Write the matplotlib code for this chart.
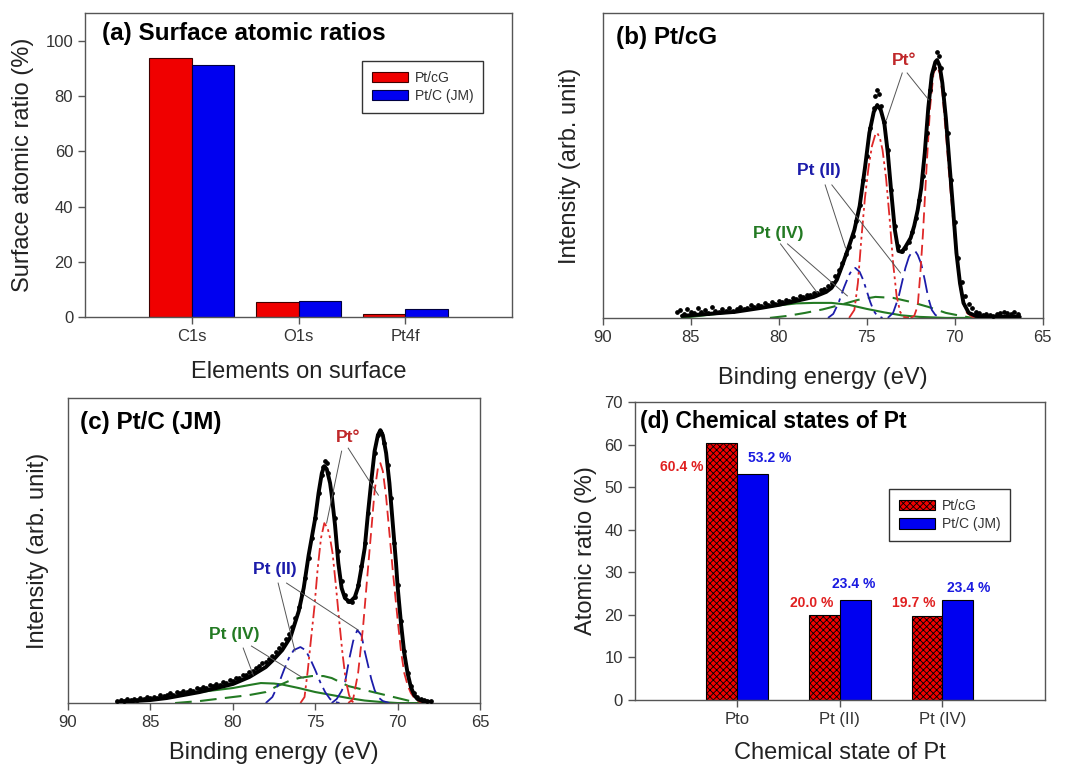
import numpy as np
import matplotlib
matplotlib.use("Agg")
import matplotlib.pyplot as plt
from matplotlib.patches import Patch

plt.rcParams['font.family'] = ['Liberation Sans', 'DejaVu Sans']
plt.rcParams['hatch.linewidth'] = 0.6

# ---- (a) surface atomic ratios
elements = ['C1s', 'O1s', 'Pt4f']
surf_cg = [93.6, 5.4, 1.1]
surf_jm = [91.2, 5.9, 2.9]

# ---- (d) chemical states of Pt
states = ['Pto', 'Pt (II)', 'Pt (IV)']
state_cg = [60.4, 20.0, 19.7]
state_jm = [53.2, 23.4, 23.4]

# ---- (b) Pt/cG spectrum: (binding energy eV, intensity arb.)
b_dots = [(85.8, 6), (85.6, 8), (85.4, 4), (85.2, 9), (85.0, 6), (84.8, 5), (84.6, 10), (84.4, 6),
          (84.2, 8), (84.0, 5), (83.8, 11), (83.6, 7), (83.4, 6), (83.2, 9), (83.0, 7), (82.8, 10),
          (82.6, 7), (82.4, 9), (82.2, 11), (82.0, 9), (81.8, 10), (81.6, 13), (81.4, 11), (81.2, 13),
          (81.0, 12), (80.8, 15), (80.6, 13), (80.4, 16), (80.2, 14), (80.0, 17), (79.8, 16), (79.6, 18),
          (79.4, 17), (79.2, 20), (79.0, 19), (78.8, 22), (78.6, 21), (78.4, 23), (78.2, 23), (78.0, 25),
          (77.8, 25), (77.6, 28), (77.4, 29), (77.2, 32), (77.0, 35), (76.8, 42), (76.6, 48), (76.4, 55),
          (76.2, 64), (76.0, 71), (75.8, 82), (75.6, 97), (75.4, 113), (75.2, 138), (75.0, 162), (74.8, 190),
          (74.6, 210), (74.5, 222), (74.4, 228), (74.3, 224), (74.2, 212), (74.0, 196), (73.8, 168), (73.6, 128),
          (73.4, 92), (73.2, 72), (73.0, 67), (72.8, 70), (72.6, 76), (72.4, 86), (72.2, 100), (72.0, 118),
          (71.8, 142), (71.6, 185), (71.4, 228), (71.2, 250), (71.0, 266), (70.9, 262), (70.8, 250), (70.6, 224),
          (70.4, 185), (70.2, 138), (70.0, 96), (69.8, 60), (69.6, 36), (69.4, 22), (69.2, 14), (69.0, 10),
          (68.8, 6), (68.6, 5), (68.4, 3), (68.2, 4), (68.0, 3), (67.8, 2), (67.6, 4), (67.4, 5),
          (67.2, 6), (67.0, 5), (66.8, 4), (66.6, 6), (66.4, 4)]
b_env = [(85.5, 2), (84.0, 4), (82.5, 6), (81.0, 10), (80.0, 13), (79.0, 17), (78.0, 21), (77.3, 26),
         (77.0, 30), (76.7, 38), (76.4, 52), (76.0, 72), (75.7, 88), (75.4, 112), (75.1, 150), (74.85, 185),
         (74.6, 206), (74.4, 213), (74.2, 208), (74.0, 195), (73.8, 165), (73.6, 125), (73.4, 88), (73.2, 67),
         (73.0, 66), (72.8, 71), (72.5, 80), (72.3, 92), (72.1, 108), (71.9, 130), (71.7, 165), (71.5, 210),
         (71.3, 243), (71.1, 256), (71.0, 258), (70.85, 252), (70.7, 235), (70.5, 200), (70.3, 155), (70.1, 111),
         (69.9, 65), (69.7, 35), (69.5, 15), (69.2, 5), (68.8, 2), (68.0, 1), (67.0, 1), (66.3, 1)]
b_pt0_a = [(72.5, 0), (72.3, 2), (72.1, 12), (71.95, 45), (71.8, 85), (71.6, 150), (71.4, 210), (71.2, 245),
           (71.0, 252), (70.85, 245), (70.7, 225), (70.5, 185), (70.3, 140), (70.1, 100), (69.9, 62), (69.7, 32),
           (69.5, 14), (69.3, 5), (69.0, 1), (68.5, 0)]
b_pt0_b = [(76.0, 0), (75.7, 8), (75.5, 35), (75.3, 80), (75.1, 120), (74.9, 150), (74.7, 172), (74.5, 184),
           (74.4, 185), (74.25, 180), (74.1, 168), (73.9, 140), (73.7, 100), (73.5, 55), (73.3, 22), (73.1, 6),
           (72.9, 1), (72.6, 0)]
b_pt2_a = [(73.8, 0), (73.5, 5), (73.2, 20), (73.0, 35), (72.8, 50), (72.6, 61), (72.4, 67), (72.25, 67),
           (72.1, 63), (71.9, 54), (71.7, 38), (71.5, 20), (71.3, 8), (71.1, 3), (70.8, 0)]
b_pt2_b = [(77.2, 0), (76.9, 4), (76.6, 15), (76.3, 30), (76.0, 43), (75.8, 49), (75.65, 50), (75.4, 46),
           (75.2, 38), (75.0, 27), (74.8, 16), (74.6, 7), (74.4, 2), (74.1, 0)]
b_pt4_a = [(85.5, 0), (84.0, 3), (82.5, 6), (81.0, 10), (80.0, 12.5), (79.0, 14.5), (78.0, 15), (77.0, 15),
           (76.0, 13), (75.0, 9), (74.0, 5.5), (73.0, 2.5), (72.0, 1), (70.5, 0), (66.3, 0)]
b_pt4_b = [(80.5, 0), (79.5, 2), (78.5, 5), (77.5, 8.5), (76.5, 13), (75.5, 18), (74.5, 21), (73.5, 20),
           (72.5, 16), (71.5, 11), (70.5, 5), (69.5, 1.5), (69.0, 0)]

# ---- (c) Pt/C (JM) spectrum
c_dots = [(87.0, 2), (86.8, 3), (86.6, 2), (86.4, 4), (86.2, 3), (86.0, 4), (85.8, 3), (85.6, 5), (85.4, 4),
          (85.2, 6), (85.0, 5), (84.8, 6), (84.6, 5), (84.4, 8), (84.2, 7), (84.0, 8), (83.8, 10), (83.6, 8),
          (83.4, 11), (83.2, 10), (83.0, 12), (82.8, 11), (82.6, 13), (82.4, 12), (82.2, 15), (82.0, 14),
          (81.8, 16), (81.6, 15), (81.4, 18), (81.2, 17), (81.0, 19), (80.8, 18), (80.6, 21), (80.4, 20),
          (80.2, 23), (80.0, 22), (79.8, 25), (79.6, 25), (79.4, 28), (79.2, 28), (79.0, 31), (78.8, 32),
          (78.6, 35), (78.4, 37), (78.2, 40), (78.0, 41), (77.8, 44), (77.6, 47), (77.4, 51), (77.2, 55),
          (77.0, 59), (76.8, 64), (76.6, 69), (76.4, 76), (76.2, 85), (76.0, 96), (75.8, 110), (75.6, 125),
          (75.4, 145), (75.2, 165), (75.0, 185), (74.8, 210), (74.6, 228), (74.5, 236), (74.4, 242), (74.3, 240),
          (74.2, 230), (74.0, 210), (73.8, 185), (73.6, 152), (73.4, 122), (73.2, 108), (73.0, 102), (72.8, 101),
          (72.6, 106), (72.4, 118), (72.2, 137), (72.0, 160), (71.8, 190), (71.6, 222), (71.4, 250), (71.2, 268),
          (71.1, 272), (71.0, 270), (70.8, 260), (70.6, 238), (70.4, 205), (70.2, 160), (70.0, 118), (69.8, 82),
          (69.6, 52), (69.4, 30), (69.2, 17), (69.0, 10), (68.8, 6), (68.6, 4), (68.4, 3), (68.2, 2), (68.0, 2)]
c_env = [(87.0, 1), (86.0, 2), (85.0, 3), (84.0, 5), (83.0, 8), (82.0, 11), (81.0, 15), (80.0, 19),
         (79.0, 26), (78.0, 36), (77.5, 44), (77.0, 53), (76.5, 66), (76.0, 92), (75.7, 115), (75.4, 148),
         (75.0, 185), (74.8, 210), (74.6, 230), (74.45, 237), (74.3, 234), (74.1, 220), (74.0, 208), (73.8, 178),
         (73.6, 140), (73.4, 115), (73.2, 105), (72.9, 101), (72.6, 106), (72.4, 116), (72.2, 135), (72.0, 155),
         (71.8, 190), (71.6, 222), (71.4, 252), (71.2, 268), (71.05, 273), (70.9, 268), (70.7, 250), (70.5, 220),
         (70.3, 180), (70.1, 140), (70.0, 116), (69.8, 80), (69.6, 50), (69.4, 30), (69.2, 16), (69.0, 8),
         (68.8, 4), (68.5, 2), (68.0, 1)]
c_pt0_a = [(73.0, 0), (72.7, 4), (72.4, 30), (72.1, 76), (71.85, 125), (71.6, 173), (71.4, 212), (71.2, 235),
           (71.05, 240), (70.9, 232), (70.7, 206), (70.5, 170), (70.3, 133), (70.0, 83), (69.8, 52), (69.6, 30),
           (69.4, 18), (69.2, 10), (68.9, 3), (68.5, 0)]
c_pt0_b = [(75.9, 0), (75.65, 6), (75.45, 33), (75.25, 65), (75.05, 96), (74.85, 135), (74.65, 165), (74.45, 180),
           (74.25, 175), (74.1, 165), (73.95, 150), (73.75, 118), (73.55, 83), (73.35, 50), (73.15, 23), (72.95, 8),
           (72.8, 2), (72.6, 0)]
c_pt2_a = [(74.0, 0), (73.7, 4), (73.4, 12), (73.2, 20), (72.95, 43), (72.7, 62), (72.45, 73), (72.2, 68),
           (72.0, 52), (71.8, 38), (71.6, 24), (71.4, 13), (71.2, 6), (70.9, 2), (70.5, 0)]
c_pt2_b = [(78.0, 0), (77.6, 6), (77.2, 20), (76.9, 33), (76.6, 45), (76.3, 53), (75.9, 56), (75.6, 53),
           (75.3, 44), (75.0, 33), (74.7, 21), (74.4, 11), (74.1, 4), (73.8, 1), (73.5, 0)]
c_pt4_a = [(87.0, 0), (86.0, 2), (85.0, 3.5), (84.0, 5), (83.0, 8), (82.0, 11), (81.0, 13), (80.0, 15),
           (79.0, 18), (78.3, 20), (77.5, 19.5), (77.0, 18.5), (76.0, 15), (75.5, 13), (75.0, 11), (74.0, 8),
           (73.0, 5), (72.0, 2.5), (71.0, 1), (70.0, 0), (68.0, 0)]
c_pt4_b = [(83.5, 0), (82.0, 2), (80.0, 6), (79.0, 8), (78.0, 11), (77.3, 17), (76.6, 22), (76.0, 25),
           (75.2, 27), (74.5, 27), (74.0, 25), (73.5, 21), (73.0, 17), (72.0, 13), (71.0, 9), (70.0, 5),
           (69.5, 3), (69.0, 1), (68.5, 0)]

RED = '#f00000'
BLUE = '#0000f0'
SPINE = '#555555'
TICKC = '#333333'


def style_axes(ax):
    for s in ax.spines.values():
        s.set_color(SPINE)
        s.set_linewidth(1.0)
    ax.tick_params(direction='out', length=5, width=1, color=SPINE,
                   labelsize=12, labelcolor=TICKC)


def xy(pairs):
    a = np.array(pairs, dtype=float)
    return a[:, 0], a[:, 1]


def boxed_legend(ax, anchor, handles=None):
    kw = dict(loc='upper left', bbox_to_anchor=anchor, fontsize=10,
              handlelength=2.6, handleheight=0.75, frameon=True, fancybox=False,
              borderpad=0.7, labelspacing=0.3, handletextpad=0.5)
    leg = ax.legend(handles=handles, **kw) if handles else ax.legend(**kw)
    leg.get_frame().set_edgecolor('black')
    leg.get_frame().set_linewidth(1.0)
    for t in leg.get_texts():
        t.set_color(TICKC)
    return leg


fig = plt.figure(figsize=(10.65, 7.66), dpi=100)

# ---------------- (a)
ax = fig.add_axes([0.0798, 0.586, 0.401, 0.397])
x = np.arange(len(elements))
ax.bar(x - 0.2, surf_cg, 0.4, color=RED, edgecolor='#400000', linewidth=0.8, label='Pt/cG')
ax.bar(x + 0.2, surf_jm, 0.4, color=BLUE, edgecolor='#000040', linewidth=0.8, label='Pt/C (JM)')
ax.set_xlim(-1, 3)
ax.set_ylim(0, 110)
ax.set_yticks([0, 20, 40, 60, 80, 100])
ax.set_xticks(x)
ax.set_xticklabels(elements)
style_axes(ax)
ax.set_ylabel('Surface atomic ratio (%)', fontsize=17, color='#222', labelpad=8)
ax.set_xlabel('Elements on surface', fontsize=17, color='#222', labelpad=12)
ax.text(0.04, 0.934, '(a) Surface atomic ratios', transform=ax.transAxes,
        fontsize=17.5, fontweight='bold', va='center', ha='left')
boxed_legend(ax, (0.633, 0.865))

# ---------------- spectra panels
comp_styles = {
    'pt0_a': dict(color='#e02828', lw=1.3, ls=(0, (6, 3))),
    'pt0_b': dict(color='#e02828', lw=1.3, ls=(0, (7, 2, 1.5, 2, 1.5, 2))),
    'pt2_a': dict(color='#1c1caa', lw=1.3, ls=(0, (10, 4))),
    'pt2_b': dict(color='#1c1caa', lw=1.3, ls=(0, (8, 3, 2, 3))),
    'pt4_a': dict(color='#237a23', lw=1.5, ls='-'),
    'pt4_b': dict(color='#237a23', lw=1.5, ls=(0, (8, 4))),
}


def spectrum(ax, dots, env, comps, title, ann, ylpad, xlpad):
    for key, pairs in comps.items():
        e, h = xy(pairs)
        st = comp_styles[key]
        ax.plot(e, h, color=st['color'], lw=st['lw'], linestyle=st['ls'], zorder=2)
    e, h = xy(env)
    ax.plot(e, h, color='black', lw=2.8, zorder=3, solid_capstyle='round')
    e, h = xy(dots)
    ax.plot(e, h, 'o', color='black', markersize=2.4, zorder=4)
    ax.set_xlim(90, 65)
    ax.set_ylim(0, 305)
    ax.set_yticks([])
    ax.set_xticks([90, 85, 80, 75, 70, 65])
    style_axes(ax)
    ax.set_ylabel('Intensity (arb. unit)', fontsize=17, color='#222', labelpad=ylpad)
    ax.set_xlabel('Binding energy (eV)', fontsize=17, color='#222', labelpad=xlpad)
    ax.text(0.03, 0.921, title, transform=ax.transAxes, fontsize=17.5,
            fontweight='bold', va='center', ha='left')
    for label, color, pos, lines in ann:
        ax.text(pos[0], pos[1], label, color=color, fontsize=12.5, fontweight='bold',
                ha='center', va='center', zorder=5)
        for (x0, y0, x1, y1) in lines:
            ax.plot([x0, x1], [y0, y1], color='#555555', lw=0.7, zorder=5)


ax = fig.add_axes([0.566, 0.585, 0.413, 0.398])
spectrum(ax, b_dots, b_env,
         {'pt4_a': b_pt4_a, 'pt4_b': b_pt4_b, 'pt2_a': b_pt2_a, 'pt2_b': b_pt2_b,
          'pt0_a': b_pt0_a, 'pt0_b': b_pt0_b},
         '(b) Pt/cG',
         [('Pt°', '#c0282a', (72.9, 258), [(72.98, 245, 73.88, 198), (72.7, 245, 71.47, 218)]),
          ('Pt (II)', '#1c1caa', (77.74, 147), [(77.36, 133, 76.2, 70), (76.98, 133, 73.08, 45)]),
          ('Pt (IV)', '#237a23', (80.0, 84), [(79.9, 74, 77.8, 25), (79.5, 74, 76.1, 22)])],
         16, 16)

ax = fig.add_axes([0.0638, 0.0822, 0.387, 0.398])
spectrum(ax, c_dots, c_env,
         {'pt4_a': c_pt4_a, 'pt4_b': c_pt4_b, 'pt2_a': c_pt2_a, 'pt2_b': c_pt2_b,
          'pt0_a': c_pt0_a, 'pt0_b': c_pt0_b},
         '(c) Pt/C (JM)',
         [('Pt°', '#c0282a', (73.0, 266), [(73.4, 252, 74.31, 180), (73.0, 255, 71.17, 208)]),
          ('Pt (II)', '#1c1caa', (77.45, 134), [(77.25, 120, 76.23, 52), (76.74, 120, 72.39, 73)]),
          ('Pt (IV)', '#237a23', (79.9, 69), [(79.37, 55, 78.76, 28), (78.87, 57, 75.73, 25)])],
         14, 9)

# ---------------- (d)
ax = fig.add_axes([0.596, 0.0862, 0.385, 0.389])
x = np.arange(len(states))
ax.bar(x - 0.15, state_cg, 0.3, color=RED, edgecolor='black', linewidth=0.8,
       hatch='xxxxx', label='Pt/cG')
ax.bar(x + 0.15, state_jm, 0.3, color=BLUE, edgecolor='black', linewidth=0.8, label='Pt/C (JM)')
ax.set_xlim(-1, 3)
ax.set_ylim(0, 70)
ax.set_yticks(range(0, 71, 10))
ax.set_xticks(x)
ax.set_xticklabels(states)
style_axes(ax)
ax.set_ylabel('Atomic ratio (%)', fontsize=17, color='#222', labelpad=5)
ax.set_xlabel('Chemical state of Pt', fontsize=17, color='#222', labelpad=11)
ax.text(0.012, 0.936, '(d) Chemical states of Pt', transform=ax.transAxes,
        fontsize=16.5, fontweight='bold', va='center', ha='left')
# label offsets relative to bar centres (layout only)
red_dx = [-0.39, -0.12, -0.13]
red_dy = [-5.7, 2.8, 3.1]
blue_dx = [0.17, -0.01, 0.11]
blue_dy = [3.6, 3.8, 2.9]
for i in range(len(states)):
    ax.text(i - 0.15 + red_dx[i], state_cg[i] + red_dy[i], f'{state_cg[i]:.1f} %',
            color='#e02020', fontsize=10, fontweight='bold', ha='center', va='center')
    ax.text(i + 0.15 + blue_dx[i], state_jm[i] + blue_dy[i], f'{state_jm[i]:.1f} %',
            color='#1a1ae0', fontsize=10, fontweight='bold', ha='center', va='center')
handles = [Patch(facecolor=RED, edgecolor='black', hatch='xxxxx', linewidth=0.8, label='Pt/cG'),
           Patch(facecolor=BLUE, edgecolor='black', linewidth=0.8, label='Pt/C (JM)')]
boxed_legend(ax, (0.603, 0.73), handles)

fig.savefig('out.png', dpi=100)
